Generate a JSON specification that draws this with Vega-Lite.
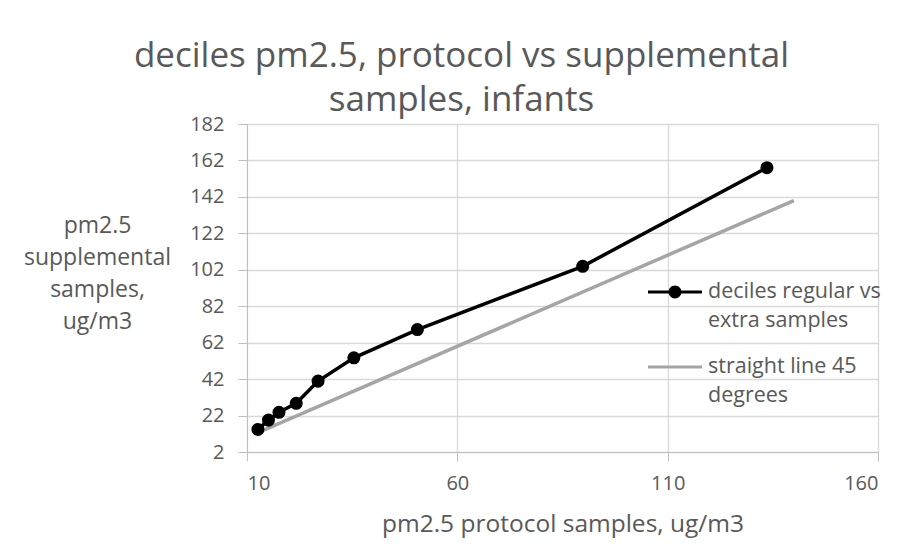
{
  "$schema": "https://vega.github.io/schema/vega-lite/v6.json",
  "width": 631,
  "height": 328,
  "autosize": {"type": "none"},
  "padding": {"left": 247, "top": 124, "right": 24, "bottom": 107},
  "background": "#ffffff",
  "config": {
    "view": {"stroke": null},
    "font": "Open Sans"
  },
  "title": {
    "text": ["deciles pm2.5, protocol vs supplemental", "samples, infants"],
    "anchor": "middle",
    "frame": "group",
    "dx": -101,
    "offset": -4,
    "fontSize": 35,
    "lineHeight": 44,
    "font": "Open Sans",
    "fontWeight": "normal",
    "color": "#595959"
  },
  "data": {
    "values": [
      {"x": 12.6, "y": 14.4, "series": "deciles regular vs extra samples"},
      {"x": 15.1, "y": 19.5, "series": "deciles regular vs extra samples"},
      {"x": 17.6, "y": 23.8, "series": "deciles regular vs extra samples"},
      {"x": 21.7, "y": 28.7, "series": "deciles regular vs extra samples"},
      {"x": 26.9, "y": 40.9, "series": "deciles regular vs extra samples"},
      {"x": 35.4, "y": 53.7, "series": "deciles regular vs extra samples"},
      {"x": 50.5, "y": 69.2, "series": "deciles regular vs extra samples"},
      {"x": 89.8, "y": 103.9, "series": "deciles regular vs extra samples"},
      {"x": 133.6, "y": 158.0, "series": "deciles regular vs extra samples"},
      {"x": 12.6, "y": 12.6, "series": "straight line 45 degrees"},
      {"x": 140, "y": 140, "series": "straight line 45 degrees"}
    ]
  },
  "encoding": {
    "x": {
      "field": "x",
      "type": "quantitative",
      "scale": {"domain": [10, 160], "nice": false, "zero": false},
      "axis": {
        "values": [10, 60, 110, 160],
        "title": "pm2.5 protocol samples, ug/m3",
        "titleFontSize": 24.5,
        "titleFont": "Open Sans",
        "titleFontWeight": "normal",
        "titleColor": "#595959",
        "titlePadding": 19,
        "labelFontSize": 20,
        "labelFont": "Open Sans",
        "labelColor": "#595959",
        "labelPadding": 12,
        "tickSize": 9,
        "tickColor": "#BFBFBF",
        "domainColor": "#BFBFBF",
        "gridColor": "#D9D9D9",
        "gridWidth": 1.3
      }
    },
    "y": {
      "field": "y",
      "type": "quantitative",
      "scale": {"domain": [2, 182], "nice": false, "zero": false},
      "axis": {
        "values": [2, 22, 42, 62, 82, 102, 122, 142, 162, 182],
        "title": ["pm2.5", "supplemental", "samples,", "ug/m3"],
        "titleAngle": 0,
        "titleAlign": "center",
        "titleBaseline": "middle",
        "titleX": -150,
        "titleY": 101,
        "titleLineHeight": 32,
        "titleFontSize": 23,
        "titleFont": "Open Sans",
        "titleFontWeight": "normal",
        "titleColor": "#595959",
        "labelFontSize": 20,
        "labelFont": "Open Sans",
        "labelColor": "#595959",
        "labelPadding": 14,
        "tickSize": 9,
        "tickColor": "#BFBFBF",
        "domainColor": "#BFBFBF",
        "gridColor": "#D9D9D9",
        "gridWidth": 1.3
      }
    }
  },
  "layer": [
    {
      "mark": {"type": "line", "strokeWidth": 3.5},
      "encoding": {
        "color": {
          "field": "series",
          "type": "nominal",
          "scale": {
            "domain": ["deciles regular vs extra samples", "straight line 45 degrees"],
            "range": ["#000000", "#A5A5A5"]
          },
          "legend": {
            "title": null,
            "orient": "none",
            "legendX": 401,
            "legendY": 141,
            "padding": 0,
            "symbolSize": 2916,
            "symbolType": "M-1,-0.06H1V0.06H-1Z",
            "labelFontSize": 21.5,
            "labelFont": "Open Sans",
            "labelColor": "#595959",
            "labelLimit": 400,
            "labelOffset": 6,
            "rowPadding": 8,
            "labelExpr": "datum.label == 'straight line 45 degrees' ? ['straight line 45', 'degrees'] : ['deciles regular vs', 'extra samples']",
            "encode": {
              "symbols": {
                "update": {
                  "shape": [
                    {"test": "datum.value === 'straight line 45 degrees'", "value": "M-1,-0.06H1V0.06H-1Z"},
                    {"value": "M-1,-0.06H1V0.06H-1Z M0.24,0A0.24,0.24,0,1,1,-0.24,0A0.24,0.24,0,1,1,0.24,0Z"}
                  ],
                  "fill": [
                    {"test": "datum.value === 'straight line 45 degrees'", "value": "#A5A5A5"},
                    {"value": "#000000"}
                  ],
                  "fillOpacity": {"value": 1},
                  "strokeWidth": {"value": 0}
                }
              },
              "labels": {
                "update": {
                  "dy": {"value": 0},
                  "lineHeight": {"value": 29}
                }
              }
            }
          }
        }
      }
    },
    {
      "transform": [{"filter": "datum.series === 'deciles regular vs extra samples'"}],
      "mark": {"type": "circle", "size": 170, "color": "#000000", "opacity": 1}
    }
  ]
}
